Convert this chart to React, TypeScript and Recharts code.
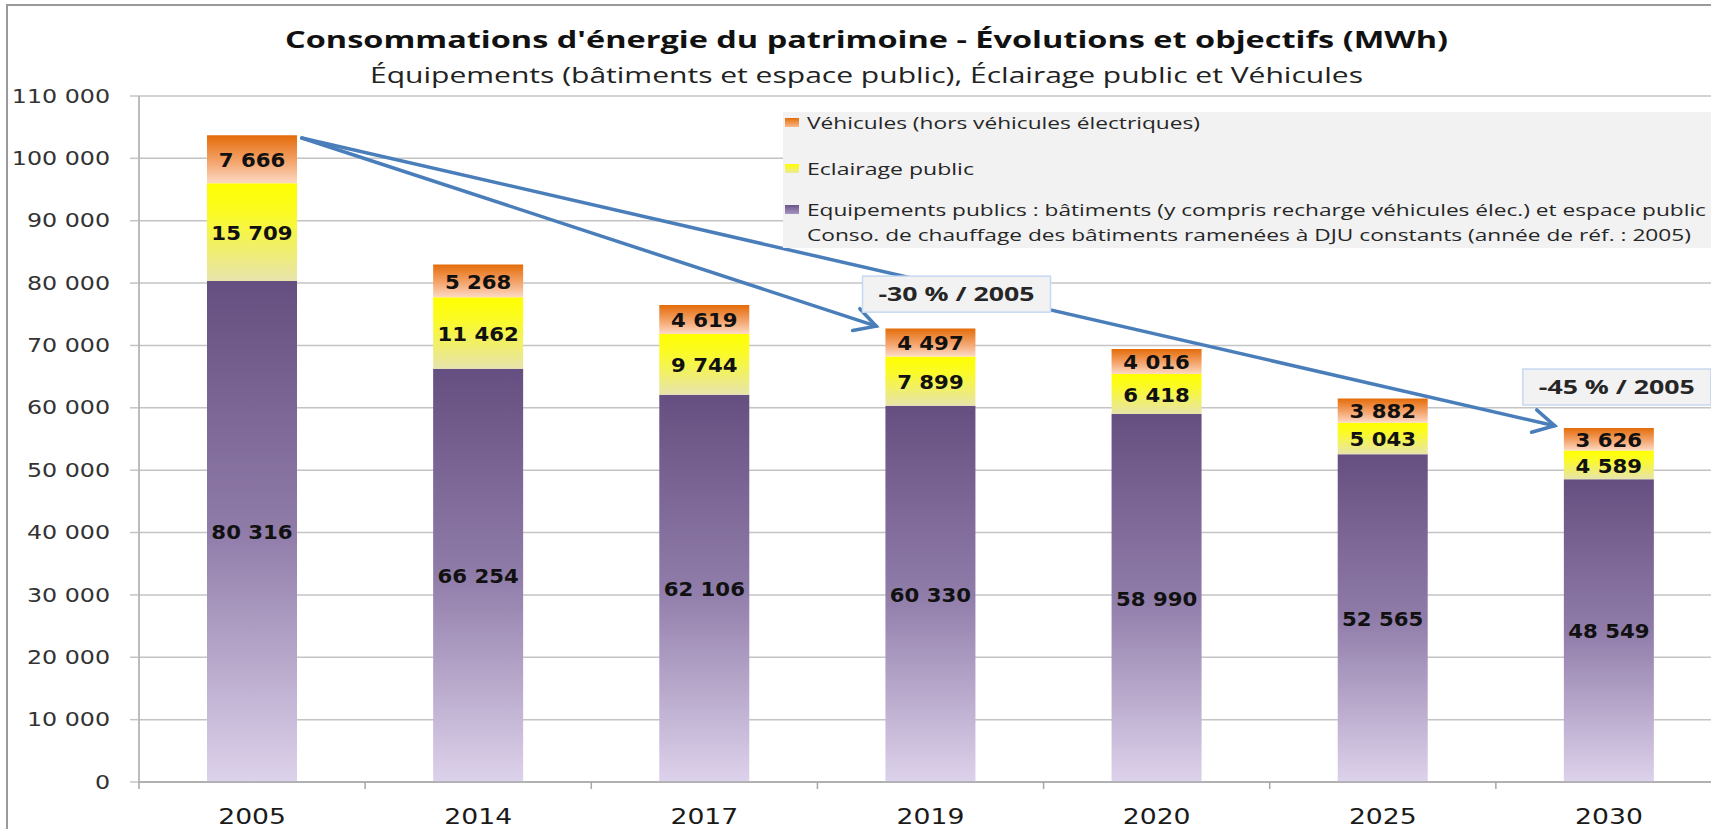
import React from 'react'
import {
  BarChart,
  Bar,
  XAxis,
  YAxis,
  CartesianGrid,
  LabelList,
  Legend,
  ReferenceLine,
  ReferenceDot,
} from 'recharts'

const years = ['2005', '2014', '2017', '2019', '2020', '2025', '2030']
const equipements = [80316, 66254, 62106, 60330, 58990, 52565, 48549]
const eclairage = [15709, 11462, 9744, 7899, 6418, 5043, 4589]
const vehicules = [7666, 5268, 4619, 4497, 4016, 3882, 3626]
const yTicks = [0, 10000, 20000, 30000, 40000, 50000, 60000, 70000, 80000, 90000, 100000, 110000]

const legendLabels = [
  'Véhicules (hors véhicules électriques)',
  'Eclairage public',
  'Equipements publics : bâtiments (y compris recharge véhicules élec.) et espace public',
  'Conso. de chauffage des bâtiments ramenées à DJU constants (année de réf. : 2005)',
]

// targets of the two arrows (index into years) and their labels
const goals = [
  { target: 3, label: '-30 % / 2005' },
  { target: 6, label: '-45 % / 2005' },
]

const title = "Consommations d'énergie du patrimoine - Évolutions et objectifs (MWh)"
const subtitle = 'Équipements (bâtiments et espace public), Éclairage public et Véhicules'

const rows = years.map((year, i) => ({
  idx: i,
  year,
  equipements: equipements[i],
  eclairage: eclairage[i],
  vehicules: vehicules[i],
}))
const totals = years.map((_, i) => equipements[i] + eclairage[i] + vehicules[i])

const fmt = (v: number) => String(v).replace(/\B(?=(\d{3})+(?!\d))/g, ' ')

const ARROW = '#4a7ebb'

function ValueTick({ x, y, payload }: any) {
  return (
    <text
      transform={`translate(${x},${y}) scale(1.25,1)`}
      textAnchor="end"
      dominantBaseline="central"
      fontFamily="DejaVu Sans"
      fontSize={19}
      fill="#333"
    >
      {fmt(payload.value)}
    </text>
  )
}

function YearTick({ x, y, payload }: any) {
  const half = payload?.offset || 113
  return (
    <g>
      <line x1={x - half} y1={y - 8} x2={x - half} y2={y - 1} stroke="#a6a6a6" strokeWidth={1.5} />
      <text
        transform={`translate(${x},${y + 34}) scale(1.3,1)`}
        textAnchor="middle"
        fontFamily="DejaVu Sans"
        fontSize={20.5}
        fill="#1a1a1a"
      >
        {payload.value}
      </text>
    </g>
  )
}

const renderValue = (props: any) => {
  const { x, y, width, height, value } = props
  return (
    <text
      transform={`translate(${x + width / 2},${y + height / 2 + 1}) scale(1.09,1)`}
      textAnchor="middle"
      dominantBaseline="central"
      fontFamily="DejaVu Sans"
      fontWeight="bold"
      fontSize={19.5}
      fill="#111"
    >
      {fmt(value)}
    </text>
  )
}

function Arrow(props: any) {
  const { x1, y1, x2, y2 } = props
  const a = Math.atan2(y2 - y1, x2 - x1)
  const len = 24
  const s = 0.5
  const p1 = `${x2 - len * Math.cos(a - s)},${y2 - len * Math.sin(a - s)}`
  const p2 = `${x2 - len * Math.cos(a + s)},${y2 - len * Math.sin(a + s)}`
  return (
    <g>
      <line x1={x1} y1={y1} x2={x2} y2={y2} stroke={ARROW} strokeWidth={3.5} strokeLinecap="round" />
      <polyline points={`${p1} ${x2},${y2} ${p2}`} fill="none" stroke={ARROW} strokeWidth={3.5} strokeLinecap="round" />
    </g>
  )
}

const noteBox = (label: string) => (props: any) => {
  const { cx, cy } = props
  return (
    <g>
      <rect x={cx - 94} y={cy - 18} width={188} height={36} fill="#f2f2f2" stroke="#c6d9f1" strokeWidth={1.5} />
      <text
        x={cx - 78}
        y={cy + 7}
        textLength={156}
        lengthAdjust="spacingAndGlyphs"
        fontFamily="Open Sans"
        fontWeight="bold"
        fontSize={20}
        fill="#262626"
      >
        {label}
      </text>
    </g>
  )
}

const legendColors = ['url(#lgVeh)', 'url(#lgEcl)', 'url(#lgEq)']
const legendLengths = [393, 167, 899, 884]
const legendBaselines = [17, 63, 104, 129]

function LegendBox() {
  return (
    <svg width={928} height={136} style={{ display: 'block', background: '#f2f2f2' }}>
      <defs>
        <linearGradient id="lgVeh" x1="0" y1="0" x2="0" y2="1">
          <stop offset="0%" stopColor="#e46c0a" />
          <stop offset="100%" stopColor="#f9b88a" />
        </linearGradient>
        <linearGradient id="lgEcl" x1="0" y1="0" x2="0" y2="1">
          <stop offset="0%" stopColor="#ffff00" />
          <stop offset="100%" stopColor="#ecea9a" />
        </linearGradient>
        <linearGradient id="lgEq" x1="0" y1="0" x2="0" y2="1">
          <stop offset="0%" stopColor="#6b5688" />
          <stop offset="100%" stopColor="#a796c0" />
        </linearGradient>
      </defs>
      {legendLabels.map((label, i) => (
        <g key={label}>
          {i < legendColors.length && (
            <rect x={2} y={legendBaselines[i] - 11} width={14} height={9} fill={legendColors[i]} />
          )}
          <text
            x={24}
            y={legendBaselines[i]}
            textLength={legendLengths[i]}
            lengthAdjust="spacingAndGlyphs"
            fontFamily="Open Sans"
            fontSize={17}
            fill="#262626"
          >
            {label}
          </text>
        </g>
      ))}
    </svg>
  )
}

export default function App() {
  return (
    <div
      style={{
        position: 'fixed',
        left: 0,
        top: 0,
        width: 1711,
        height: 829,
        overflow: 'hidden',
        background: '#fff',
      }}
    >
      <div
        style={{
          position: 'absolute',
          left: 6,
          top: 4,
          width: 1740,
          height: 860,
          border: '2px solid #9a9a9a',
        }}
      />
      <svg width={1711} height={100} style={{ position: 'absolute', left: 0, top: 0 }}>
        <text
          x={285}
          y={48}
          textLength={1163}
          lengthAdjust="spacingAndGlyphs"
          fontFamily="Open Sans"
          fontWeight="bold"
          fontSize={24}
          fill="#111"
        >
          {title}
        </text>
        <text
          x={370}
          y={82.5}
          textLength={993}
          lengthAdjust="spacingAndGlyphs"
          fontFamily="Open Sans"
          fontSize={21.5}
          fill="#222"
        >
          {subtitle}
        </text>
      </svg>
      <div style={{ position: 'absolute', left: 0, top: 0 }}>
        <BarChart
          width={1730}
          height={830}
          data={rows}
          barSize={90}
          margin={{ top: 96, right: 8, bottom: 0, left: 0 }}
        >
          <defs>
            <linearGradient id="gVeh" x1="0" y1="0" x2="0" y2="1">
              <stop offset="0%" stopColor="#e46c0a" />
              <stop offset="55%" stopColor="#f4a46c" />
              <stop offset="100%" stopColor="#fcd9c4" />
            </linearGradient>
            <linearGradient id="gEcl" x1="0" y1="0" x2="0" y2="1">
              <stop offset="0%" stopColor="#ffff00" />
              <stop offset="30%" stopColor="#fbfb24" />
              <stop offset="100%" stopColor="#e7e4ad" />
            </linearGradient>
            <linearGradient id="gEq" x1="0" y1="0" x2="0" y2="1">
              <stop offset="0%" stopColor="#654f80" />
              <stop offset="50%" stopColor="#907ca9" />
              <stop offset="100%" stopColor="#ddd2eb" />
            </linearGradient>
          </defs>
          <CartesianGrid vertical={false} stroke="#c4c4c4" strokeWidth={1.5} />
          <XAxis
            dataKey="year"
            height={48}
            axisLine={{ stroke: '#a6a6a6', strokeWidth: 1.5 }}
            tickLine={false}
            tickSize={8}
            tickMargin={0}
            tick={<YearTick />}
            interval={0}
          />
          <XAxis xAxisId="pos" dataKey="idx" type="number" domain={[-0.5, 6.5]} allowDataOverflow hide />
          <YAxis
            width={139}
            domain={[0, 110000]}
            ticks={yTicks}
            interval={0}
            axisLine={{ stroke: '#a6a6a6', strokeWidth: 1.5 }}
            tickLine={{ stroke: '#c4c4c4', strokeWidth: 1.5 }}
            tickSize={9}
            tickMargin={20}
            tick={<ValueTick />}
          />
          <Legend
            layout="vertical"
            align="center"
            verticalAlign="middle"
            content={() => <LegendBox />}
            wrapperStyle={{ position: 'absolute', left: 783, top: 112, width: 928, height: 136 }}
          />
          <Bar dataKey="equipements" name={legendLabels[2]} stackId="a" fill="url(#gEq)" isAnimationActive={false}>
            <LabelList dataKey="equipements" content={renderValue} />
          </Bar>
          <Bar dataKey="eclairage" name={legendLabels[1]} stackId="a" fill="url(#gEcl)" isAnimationActive={false}>
            <LabelList dataKey="eclairage" content={renderValue} />
          </Bar>
          <Bar dataKey="vehicules" name={legendLabels[0]} stackId="a" fill="url(#gVeh)" isAnimationActive={false}>
            <LabelList dataKey="vehicules" content={renderValue} />
          </Bar>
          {goals.map((g) => (
            <ReferenceLine
              key={g.label + 'line'}
              xAxisId="pos"
              ifOverflow="visible"
              segment={[
                { x: 0.22, y: totals[0] - 420 },
                { x: g.target - 0.24, y: totals[g.target] + 360 },
              ]}
              shape={Arrow}
            />
          ))}
          {goals.map((g) => (
            <ReferenceDot
              key={g.label}
              xAxisId="pos"
              ifOverflow="visible"
              x={g.target + 0.08 + (g.target === 3 ? 0.035 : -0.045)}
              y={totals[g.target] + (g.target === 3 ? 5500 : 6570)}
              shape={noteBox(g.label)}
            />
          ))}
        </BarChart>
      </div>
    </div>
  )
}
